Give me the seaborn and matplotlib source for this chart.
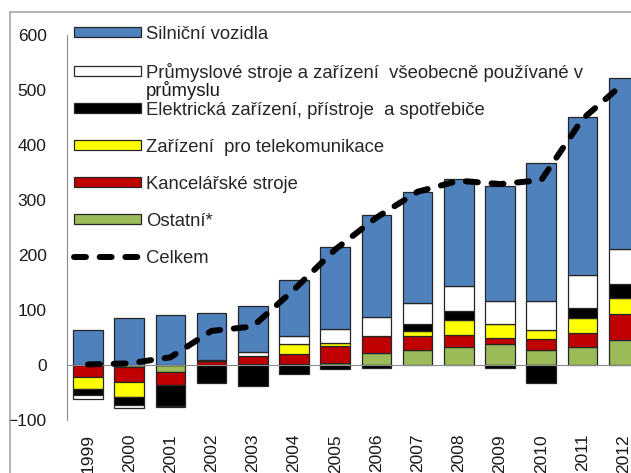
import numpy as np
import matplotlib.pyplot as plt
import seaborn as sns
from matplotlib.patches import Patch, Rectangle
from matplotlib.lines import Line2D
from matplotlib.transforms import IdentityTransform

roky = ['1999', '2000', '2001', '2002', '2003', '2004', '2005',
        '2006', '2007', '2008', '2009', '2010', '2011', '2012']

silnicni = [64, 85, 91, 85, 85, 102, 150, 186, 202, 194, 210, 250, 288, 310]
prumyslove = [-6, -5, -3, 2, 7, 14, 25, 35, 39, 45, 41, 53, 59, 64]
elektricka = [-12, -15, -38, -33, -38, -16, -7, -5, 13, 18, -6, -33, 18, 26]
telekom = [-21, -28, 0, 0, 0, 18, 6, 0, 9, 27, 25, 17, 27, 29]
kancelar = [-22, -27, -24, 7, 14, 18, 31, 30, 24, 21, 12, 19, 26, 47]
ostatni = [0, -3, -12, 0, 2, 2, 3, 22, 28, 33, 38, 28, 33, 45]
celkem = [1, 3, 14, 62, 70, 137, 210, 268, 315, 335, 329, 336, 447, 512]

popisky = ['Silniční vozidla',
           'Průmyslové stroje a zařízení  všeobecně používané v',
           'Elektrická zařízení, přístroje  a spotřebiče',
           'Zařízení  pro telekomunikace',
           'Kancelářské stroje',
           'Ostatní*',
           'Celkem']
barvy = ['#4F81BD', '#FFFFFF', '#000000', '#FFFF00', '#C00000', '#9BBB59']

sns.set_style("white")
plt.rcParams['font.family'] = ['Liberation Sans', 'DejaVu Sans']
fs = 12.5
fs_leg = 13.3
seda = '#8c8c8c'

fig = plt.figure(figsize=(6.31, 4.73), dpi=100)
ax = fig.add_axes([67.4 / 631, 53 / 473, 14 * 41.2 / 631, 385 / 473])

# stacking order from the zero line: Ostatni first, Silnicni last
rady = [ostatni, kancelar, telekom, elektricka, prumyslove, silnicni]
rady_barvy = barvy[::-1]
x = np.arange(len(roky))
kladne = np.zeros(len(roky))
zaporne = np.zeros(len(roky))
for vals, col in zip(rady, rady_barvy):
    v = np.array(vals, dtype=float)
    base = np.where(v >= 0, kladne, zaporne)
    ax.bar(x, v, bottom=base, width=0.72, color=col, edgecolor='#262626',
           linewidth=0.9, zorder=2)
    kladne += np.clip(v, 0, None)
    zaporne += np.clip(v, None, 0)

sns.lineplot(x=x, y=celkem, ax=ax, color='black', linewidth=4.3, zorder=5)
car = ax.lines[-1]
car.set_dashes([2.0, 2.3])
car.set_dash_capstyle('round')

ax.set_xlim(-0.5, 13.5)
ax.set_ylim(-100, 600)
ax.set_yticks(range(-100, 700, 100))
for s in ['top', 'right']:
    ax.spines[s].set_visible(False)
ax.spines['left'].set_color(seda)
ax.spines['bottom'].set_color(seda)
ax.spines['bottom'].set_position(('data', 0))
ax.set_xticks(x[:-1] + 0.5, labels=[])
ax.tick_params(axis='x', direction='out', length=5, color=seda, width=1)
ax.tick_params(axis='y', direction='out', length=5, color=seda, width=1,
               pad=10, labelsize=fs, labelcolor='#1a1a1a')

sec = ax.secondary_xaxis('bottom')
sec.set_xticks(x, labels=roky, rotation=90)
sec.tick_params(length=0, pad=10, labelsize=fs, labelcolor='#1a1a1a')
sec.spines['bottom'].set_visible(False)

handles = [Patch(facecolor=c, edgecolor='#262626', linewidth=0.9) for c in barvy]
handles.append(Line2D([], [], color='black', linewidth=4.3, dashes=[2.0, 2.3],
                      dash_capstyle='round'))
leg = ax.legend(handles, popisky, loc='upper left',
                bbox_to_anchor=(74 / 631, 1 - 26 / 473),
                bbox_transform=fig.transFigure, frameon=False, fontsize=fs_leg,
                handlelength=3.6, handleheight=0.45, handletextpad=0.3,
                labelspacing=1.08, borderpad=0, borderaxespad=0)

fig.patches.append(Rectangle((10 / 631, -0.1), 1.2, 1.1 - 11.7 / 473,
                             transform=fig.transFigure, fill=False,
                             edgecolor='#a6a6a6', linewidth=1.2))

fig.canvas.draw()
bb = leg.get_texts()[1].get_window_extent()
fig.text(bb.x0, bb.y0 + 1, 'průmyslu', transform=IdentityTransform(),
         va='top', ha='left', fontsize=fs_leg, color='#1a1a1a')

fig.savefig('out.png', dpi=100)
